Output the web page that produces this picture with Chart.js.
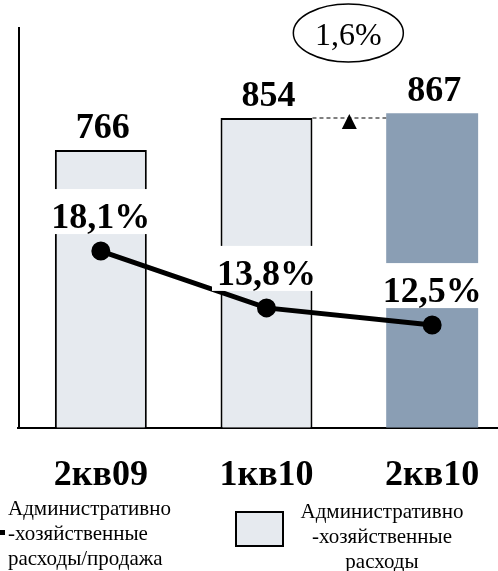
<!DOCTYPE html>
<html>
<head>
<meta charset="utf-8">
<script src="https://cdn.jsdelivr.net/npm/chart.js@4/dist/chart.umd.min.js"></script>
<style>
  html, body { margin: 0; padding: 0; background: #fff; overflow: hidden; }
  #wrap { width: 498px; height: 571px; overflow: hidden; position: relative; }
  canvas { display: block; }
</style>
</head>
<body>
<div id="wrap"><canvas id="costChart" width="527" height="571"></canvas></div>
<script>
// данные графика
var categories = ['2кв09', '1кв10', '2кв10'];
var expenses = [766, 854, 867];          // административно-хозяйственные расходы
var expenseRatio = [18.1, 13.8, 12.5];   // расходы / продажа, %
var growthLabel = '1,6%';
var legendLineText = ['Административно', '-хозяйственные', 'расходы/продажа'];
var legendBarText = ['Административно', '-хозяйственные', 'расходы'];

var SERIF = '"Liberation Serif", "Times New Roman", serif';
var LIGHT = '#E6EAEF';
var DARK = '#8A9EB4';

function fmtPct(v) {
    return v.toFixed(1).replace('.', ',') + '%';
}

var overlay = {
    id: 'overlay',
    beforeDatasetsDraw: function (chart) {
        var c = chart.ctx, a = chart.chartArea;
        c.save();
        c.strokeStyle = '#000';
        c.lineWidth = 2;
        c.beginPath();
        c.moveTo(a.left + 1, a.top);
        c.lineTo(a.left + 1, a.bottom);
        c.stroke();
        c.restore();
    },
    afterDatasetsDraw: function (chart) {
        var c = chart.ctx, a = chart.chartArea;
        var bars = chart.getDatasetMeta(0).data;
        var pts = chart.getDatasetMeta(1).data;
        c.save();

        // подписи столбцов
        c.fillStyle = '#000';
        c.textAlign = 'center';
        c.textBaseline = 'alphabetic';
        c.font = 'bold 36px ' + SERIF;
        bars.forEach(function (b, i) {
            c.fillText(String(expenses[i]), b.x + 2, b.y - 12);
        });

        // подписи линии с белым фоном
        pts.forEach(function (p, i) {
            var txt = fmtPct(expenseRatio[i]);
            var w = c.measureText(txt).width;
            var base = p.y - 23;
            c.fillStyle = '#fff';
            c.fillRect(p.x - w / 2 - 5, base - 39, w + 8, 45);
            c.fillStyle = '#000';
            c.fillText(txt, p.x, base);
        });

        // пунктир и стрелка между 1кв10 и 2кв10
        var b2 = bars[1], b3 = bars[2];
        var x1 = b2.x + b2.width / 2, x2 = b3.x - b3.width / 2;
        c.strokeStyle = '#555';
        c.lineWidth = 1.5;
        c.setLineDash([4, 3]);
        c.beginPath();
        c.moveTo(x1, b2.y);
        c.lineTo(x2, b2.y);
        c.stroke();
        c.setLineDash([]);
        var mx = (x1 + x2) / 2;
        c.fillStyle = '#000';
        c.beginPath();
        c.moveTo(mx, b2.y - 4);
        c.lineTo(mx - 7.5, b2.y + 11);
        c.lineTo(mx + 7.5, b2.y + 11);
        c.closePath();
        c.fill();

        // эллипс с приростом
        var ey = a.top + 6;
        c.strokeStyle = '#000';
        c.lineWidth = 1.5;
        c.beginPath();
        c.ellipse(mx - 1, ey, 55, 29, 0, 0, Math.PI * 2);
        c.stroke();
        c.font = '32px ' + SERIF;
        c.fillText(growthLabel, mx - 1, ey + 12);

        c.restore();
    },
    afterDraw: function (chart) {
        var c = chart.ctx;
        c.save();
        c.fillStyle = '#000';
        c.font = '21px ' + SERIF;
        c.textBaseline = 'alphabetic';

        // легенда линии
        c.fillRect(0, 530, 5, 5);
        c.textAlign = 'left';
        legendLineText.forEach(function (t, i) {
            c.fillText(t, 8, 515 + i * 25);
        });

        // легенда столбцов
        c.fillStyle = LIGHT;
        c.fillRect(236, 512, 47, 34);
        c.strokeStyle = '#000';
        c.lineWidth = 2;
        c.strokeRect(236, 512, 47, 34);
        c.fillStyle = '#000';
        c.textAlign = 'center';
        legendBarText.forEach(function (t, i) {
            c.fillText(t, 382, 518 + i * 25);
        });
        c.restore();
    }
};

var ctx = document.getElementById('costChart').getContext('2d');
var costChart = new Chart(ctx, {
    data: {
        labels: categories,
        datasets: [{
            type: 'bar',
            label: 'Административно-хозяйственные расходы',
            data: expenses,
            backgroundColor: [LIGHT, LIGHT, DARK],
            borderColor: '#000',
            borderWidth: [2, 2, 0],
            borderSkipped: 'bottom',
            categoryPercentage: 1,
            barPercentage: 0.555,
            yAxisID: 'y',
            order: 1
        }, {
            type: 'line',
            label: 'Административно-хозяйственные расходы/продажа',
            data: expenseRatio,
            borderColor: '#000',
            backgroundColor: '#000',
            borderWidth: 5,
            pointRadius: 7,
            pointHoverRadius: 7,
            tension: 0,
            yAxisID: 'y2',
            order: 0
        }]
    },
    options: {
        responsive: false,
        animation: false,
        devicePixelRatio: 1,
        layout: { padding: { left: 18, right: 5, top: 27, bottom: 48 } },
        plugins: {
            legend: { display: false },
            tooltip: { enabled: false }
        },
        scales: {
            x: {
                grid: { display: false, drawTicks: false },
                border: { display: true, color: '#000', width: 2 },
                ticks: {
                    color: '#000',
                    padding: 26,
                    font: { family: SERIF, size: 36, weight: 'bold' }
                }
            },
            y: { display: false, min: 0, max: 1105 },
            y2: { display: false, min: 4.73, max: 35.05 }
        }
    },
    plugins: [overlay]
});
</script>
</body>
</html>
